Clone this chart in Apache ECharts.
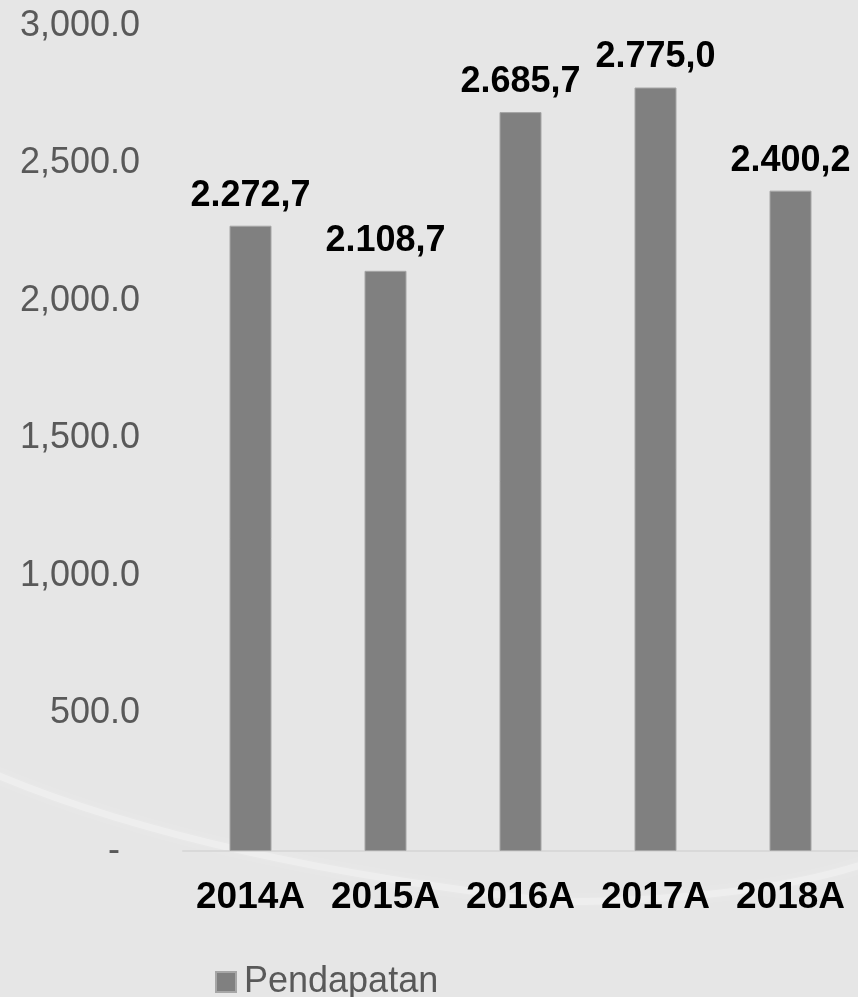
<!DOCTYPE html>
<html>
<head>
<meta charset="utf-8">
<script src="https://cdn.jsdelivr.net/npm/echarts@6/dist/echarts.min.js"></script>
<style>
  html, body { margin: 0; padding: 0; background: #e6e6e6; }
  #chart { width: 858px; height: 997px; }
</style>
</head>
<body>
<div id="chart"></div>
<script>
// Revenue (Pendapatan) per year, in billions
const categories = ['2014A', '2015A', '2016A', '2017A', '2018A'];
const pendapatan = [2272.7, 2108.7, 2685.7, 2775.0, 2400.2];
const seriesName = 'Pendapatan';

const FONT = '"Liberation Sans", Arial, sans-serif';

// Indonesian-style number: thousands with '.', decimals with ','
function idFormat(v) {
  const parts = v.toFixed(1).split('.');
  return parts[0].replace(/\B(?=(\d{3})+(?!\d))/g, '.') + ',' + parts[1];
}
// Axis style: thousands with ',', zero shown as a dash
function axisFormat(v) {
  if (v === 0) return '{dash|-}';
  return v.toLocaleString('en-US', { minimumFractionDigits: 1, maximumFractionDigits: 1 });
}

const chart = echarts.init(document.getElementById('chart'), null, { renderer: 'canvas' });

// soft light swoosh across the lower part of the background
const swooshStyle = {
  stroke: 'rgba(255,255,255,0.28)', lineWidth: 7, fill: null,
  shadowBlur: 12, shadowColor: 'rgba(255,255,255,0.8)'
};

chart.setOption({
  backgroundColor: '#e6e6e6',
  animation: false,
  textStyle: { fontFamily: FONT },
  graphic: [{
    type: 'bezierCurve', z: -10, silent: true,
    shape: { x1: -10, y1: 772, x2: 560, y2: 902, cpx1: 200, cpy1: 862 },
    style: swooshStyle
  }, {
    type: 'bezierCurve', z: -10, silent: true,
    shape: { x1: 560, y1: 902, x2: 870, y2: 862, cpx1: 760, cpy1: 900 },
    style: swooshStyle
  }],
  grid: { left: 183, top: 25.6, width: 680, height: 825.4, containLabel: false },
  legend: {
    data: [seriesName],
    left: 210,
    top: 959,
    icon: 'rect',
    itemWidth: 20,
    itemHeight: 20,
    textStyle: { color: '#595959', fontSize: 36, fontFamily: FONT, padding: [0, 0, 0, 3] }
  },
  xAxis: {
    type: 'category',
    data: categories,
    axisLine: { show: true, lineStyle: { color: '#d9d9d9', width: 2 } },
    axisTick: { show: false },
    axisLabel: { interval: 0, color: '#000', fontSize: 37, fontWeight: 'bold', fontFamily: FONT, margin: 28 }
  },
  yAxis: {
    type: 'value',
    min: 0,
    max: 3000,
    interval: 500,
    axisLine: { show: false },
    axisTick: { show: false },
    splitLine: { show: false },
    axisLabel: {
      color: '#595959', fontSize: 36, fontFamily: FONT, margin: 43,
      formatter: axisFormat,
      rich: { dash: { color: '#595959', fontSize: 36, fontFamily: FONT, padding: [0, 20, 0, 0] } }
    }
  },
  series: [{
    name: seriesName,
    type: 'bar',
    data: pendapatan,
    barWidth: 42,
    itemStyle: { color: '#808080', borderColor: '#a6a6a6', borderWidth: 1 },
    label: {
      show: true,
      position: 'top',
      distance: 12,
      color: '#000',
      fontSize: 36,
      fontWeight: 'bold',
      fontFamily: FONT,
      formatter: p => idFormat(p.value)
    }
  }]
});
</script>
</body>
</html>
